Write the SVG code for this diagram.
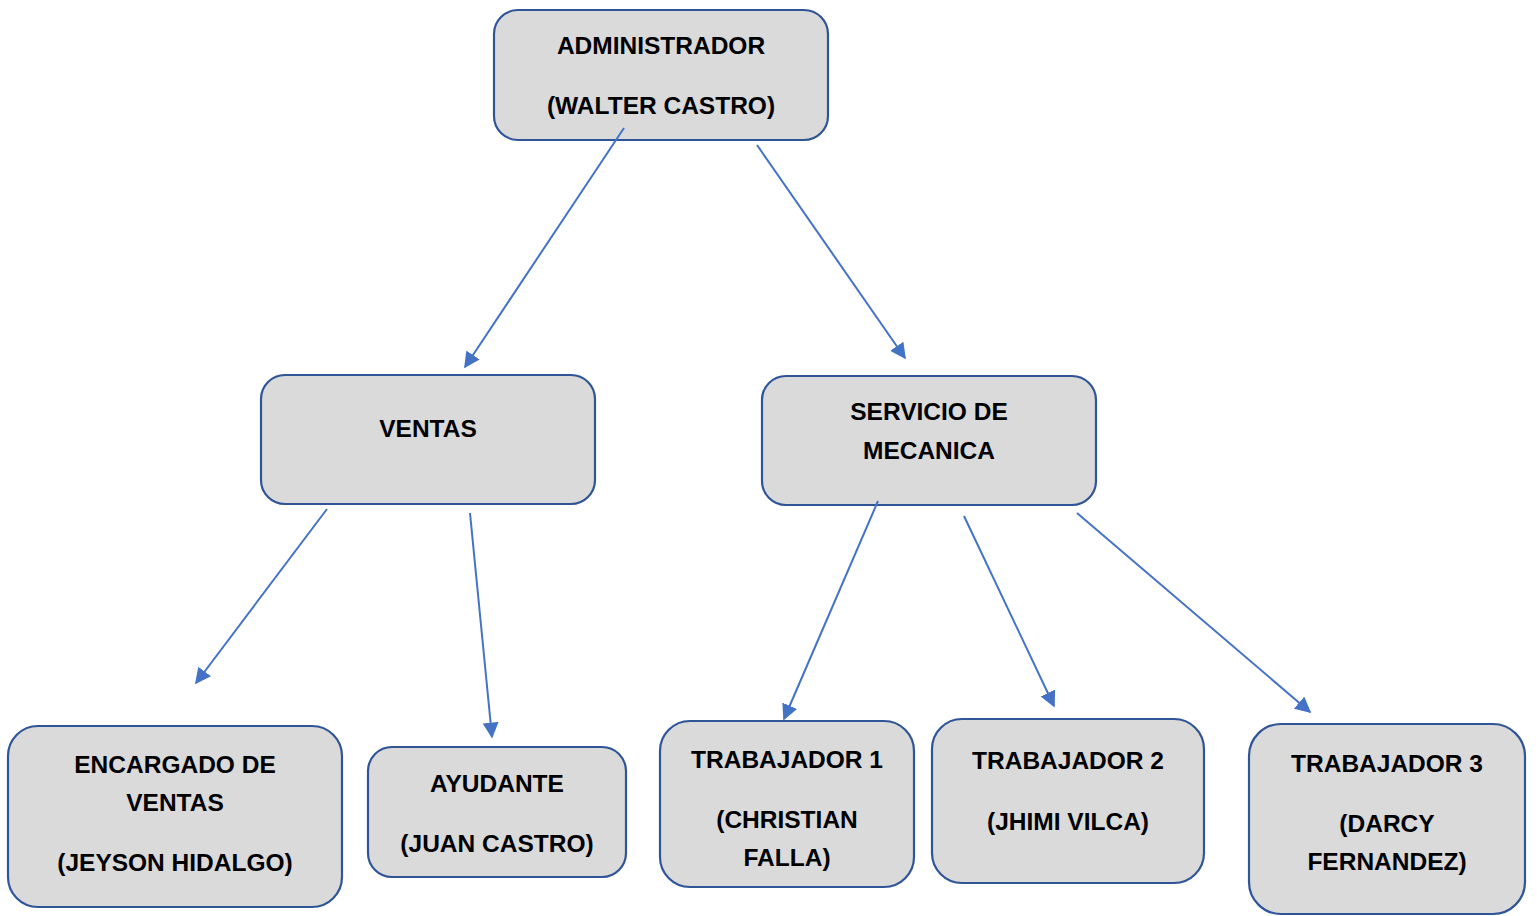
<svg xmlns="http://www.w3.org/2000/svg" width="1538" height="916" viewBox="0 0 1538 916">
<style>
.box{fill:#DADADA;stroke:#2F5597;stroke-width:2.2}
.t{font-family:"Liberation Sans",Arial,sans-serif;font-weight:bold;font-size:24.5px;fill:#000;text-anchor:middle}
.c{stroke:#4472C4;stroke-width:2;fill:none;marker-end:url(#ah)}
</style>
<defs>
<marker id="ah" viewBox="0 0 10 10" refX="9" refY="5" markerWidth="8" markerHeight="8" markerUnits="strokeWidth" orient="auto">
<path d="M0,0 L10,5 L0,10 z" fill="#4472C4"/>
</marker>
</defs>
<rect width="1538" height="916" fill="#fff"/>
<g id="administrador">
<rect class="box" x="494" y="10" width="334" height="130" rx="24"/>
<text class="t" x="661" y="54">ADMINISTRADOR</text>
<text class="t" x="661" y="114">(WALTER CASTRO)</text>
</g>
<g id="ventas">
<rect class="box" x="261" y="375" width="334" height="129" rx="24"/>
<text class="t" x="428" y="437">VENTAS</text>
</g>
<g id="servicio">
<rect class="box" x="762" y="376" width="334" height="129" rx="24"/>
<text class="t" x="929" y="420">SERVICIO DE</text>
<text class="t" x="929" y="459">MECANICA</text>
</g>
<g id="encargado">
<rect class="box" x="8" y="726" width="334" height="181" rx="30"/>
<text class="t" x="175" y="773">ENCARGADO DE</text>
<text class="t" x="175" y="811">VENTAS</text>
<text class="t" x="175" y="871">(JEYSON HIDALGO)</text>
</g>
<g id="ayudante">
<rect class="box" x="368" y="747" width="258" height="130" rx="24"/>
<text class="t" x="497" y="792">AYUDANTE</text>
<text class="t" x="497" y="852">(JUAN CASTRO)</text>
</g>
<g id="trabajador1">
<rect class="box" x="660" y="721" width="254" height="166" rx="30"/>
<text class="t" x="787" y="768">TRABAJADOR 1</text>
<text class="t" x="787" y="828">(CHRISTIAN</text>
<text class="t" x="787" y="866">FALLA)</text>
</g>
<g id="trabajador2">
<rect class="box" x="932" y="719" width="272" height="164" rx="30"/>
<text class="t" x="1068" y="769">TRABAJADOR 2</text>
<text class="t" x="1068" y="830">(JHIMI VILCA)</text>
</g>
<g id="trabajador3">
<rect class="box" x="1249" y="724" width="276" height="190" rx="32"/>
<text class="t" x="1387" y="772">TRABAJADOR 3</text>
<text class="t" x="1387" y="832">(DARCY</text>
<text class="t" x="1387" y="870">FERNANDEZ)</text>
</g>
<g id="connectors">
<line class="c" x1="624" y1="128" x2="465" y2="367"/>
<line class="c" x1="757" y1="145" x2="905" y2="358"/>
<line class="c" x1="327" y1="509" x2="196" y2="683"/>
<line class="c" x1="470" y1="513" x2="492" y2="737"/>
<line class="c" x1="878" y1="501" x2="784" y2="719"/>
<line class="c" x1="964" y1="516" x2="1054" y2="706"/>
<line class="c" x1="1077" y1="513" x2="1310" y2="712"/>
</g>
</svg>
